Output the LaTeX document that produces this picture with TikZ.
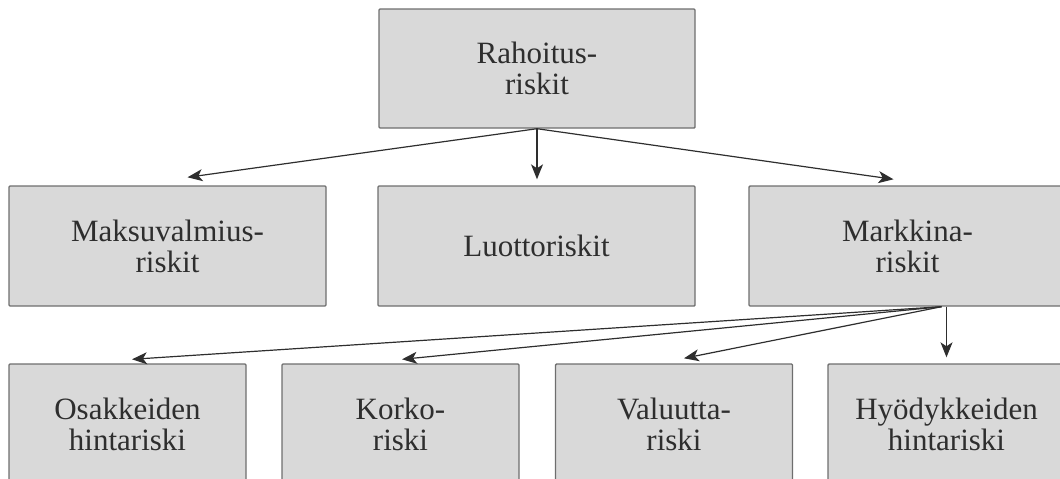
\documentclass[tikz,border=0pt]{standalone}
\usepackage{fontspec}
\setmainfont{Liberation Serif}
\usepackage{tikz}
\usetikzlibrary{positioning,arrows.meta,calc}
\definecolor{boxfill}{HTML}{D9D9D9}
\definecolor{boxline}{HTML}{6E6E6E}
\definecolor{ink}{HTML}{2E2E2E}
\tikzset{
  riskbox/.style={draw=boxline, fill=boxfill, line width=1.4pt, rounded corners=1pt,
    text=ink, align=center, font=\fontsize{31}{31}\selectfont, inner sep=0pt},
  widebox/.style={riskbox, minimum width=317pt, minimum height=120pt},
  narrowbox/.style={riskbox, minimum width=237pt, minimum height=120pt},
  link/.style={draw=ink, line width=1.2pt, -{Stealth[length=15pt, width=12pt, inset=4pt]}}
}
\begin{document}
\begin{tikzpicture}[x=1pt, y=1pt]
\useasboundingbox (0,0) rectangle (1060,-479);
\clip (0,0) rectangle (1060,-479);
% Level 1
\node[widebox, minimum width=316pt, minimum height=119pt] (rahoitus) at (537,-68.5) {Rahoitus-\\riskit};

% Level 2
\node[widebox] (maksu)    at (167.5,-246) {Maksuvalmius-\\riskit};
\node[widebox] (luotto)   at (536.5,-246) {Luottoriskit};
\node[widebox] (markkina) at (907.5,-246) {Markkina-\\riskit};

% Level 3
\node[narrowbox] (osake)   at (127.5,-424) {Osakkeiden\\hintariski};
\node[narrowbox] (korko)   at (400.5,-424) {Korko-\\riski};
\node[narrowbox] (valuutta) at (674,-424) {Valuutta-\\riski};
\node[narrowbox] (hyodyke) at (946.5,-424) {Hyödykkeiden\\hintariski};

% Links from level 1
\draw[link] (rahoitus.south) -- ($(maksu.north)+(20,8)$);
\draw[link] (rahoitus.south) -- ($(luotto.north)+(0.5,6)$);
\draw[link] (rahoitus.south) -- ($(markkina.north)+(-14,6)$);

% Links from level 2
\coordinate (mk) at ($(markkina.south)+(34,0)$);
\draw[link] (mk) -- ($(osake.north)+(4.5,4)$);
\draw[link] (mk) -- ($(korko.north)+(1.5,4)$);
\draw[link] (mk) -- ($(valuutta.north)+(10,5)$);
\draw[link] (markkina.south -| hyodyke.north) -- ($(hyodyke.north)+(0,6)$);
\end{tikzpicture}
\end{document}
